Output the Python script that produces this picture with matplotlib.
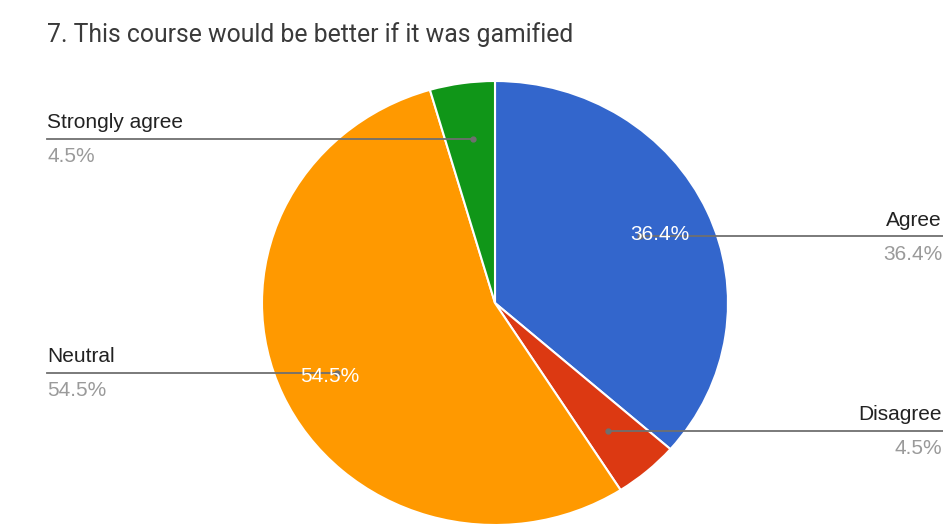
import matplotlib
matplotlib.use("Agg")
import matplotlib.pyplot as plt

title = "7. This course would be better if it was gamified"
categories = ["Agree", "Disagree", "Neutral", "Strongly agree"]
values = [36.4, 4.5, 54.5, 4.5]
pct_labels = ["36.4%", "4.5%", "54.5%", "4.5%"]
colors = ["#3366CC", "#DC3912", "#FF9900", "#109618"]

W, H = 943, 531
plt.rcParams['font.family'] = ['Liberation Sans', 'DejaVu Sans']
fig = plt.figure(figsize=(W / 100, H / 100), dpi=100)
fig.patch.set_facecolor("white")

# pie axes (slightly elliptical as in the reference)
cx, cy, rx, ry = 495, 303, 233, 222
pax = fig.add_axes([(cx - rx) / W, 1 - (cy + ry) / H, 2 * rx / W, 2 * ry / H])
wedges, _ = pax.pie(values, colors=colors, startangle=90, counterclock=False,
                    wedgeprops=dict(edgecolor="white", linewidth=1.5))
pax.set_aspect("auto")
pax.set_xlim(-1, 1)
pax.set_ylim(-1, 1)
pax.axis("off")

# overlay in pixel coordinates
ax = fig.add_axes([0, 0, 1, 1], zorder=5)
ax.set_xlim(0, W)
ax.set_ylim(H, 0)
ax.axis("off")
ax.patch.set_alpha(0)

ax.text(47, 35, title, fontsize=17.8, color="#3a3a3a", va="center", ha="left",
        family=['Roboto', 'DejaVu Sans'])

line_c = "#6f6f6f"
lab_c = "#222222"
pc_c = "#9a9a9a"
fs = 15

# label callouts: (category index, line y, x start, x end, side)
callouts = [
    (3, 139, 47, 473, "left"),
    (2, 373, 47, 337, "left"),
    (0, 236, 943, 640, "right"),
    (1, 431, 943, 608, "right"),
]
for idx, ly, xs, xe, side in callouts:
    ax.plot([xs, xe], [ly, ly], color=line_c, lw=1.3, zorder=6)
    ax.plot([xe], [ly], "o", color=line_c, ms=3.5, zorder=6)
    tx = 47 if side == "left" else 942
    ha = "left" if side == "left" else "right"
    ax.text(tx, ly - 16, categories[idx], fontsize=fs, color=lab_c, ha=ha, va="center")
    ax.text(tx, ly + 18, pct_labels[idx], fontsize=fs, color=pc_c, ha=ha, va="center")

# inside labels
ax.text(660, 234, pct_labels[0], fontsize=fs, color="white", ha="center", va="center", zorder=7)
ax.text(330, 376, pct_labels[2], fontsize=fs, color="white", ha="center", va="center", zorder=7)

fig.savefig("out.png", dpi=100, facecolor="white")
